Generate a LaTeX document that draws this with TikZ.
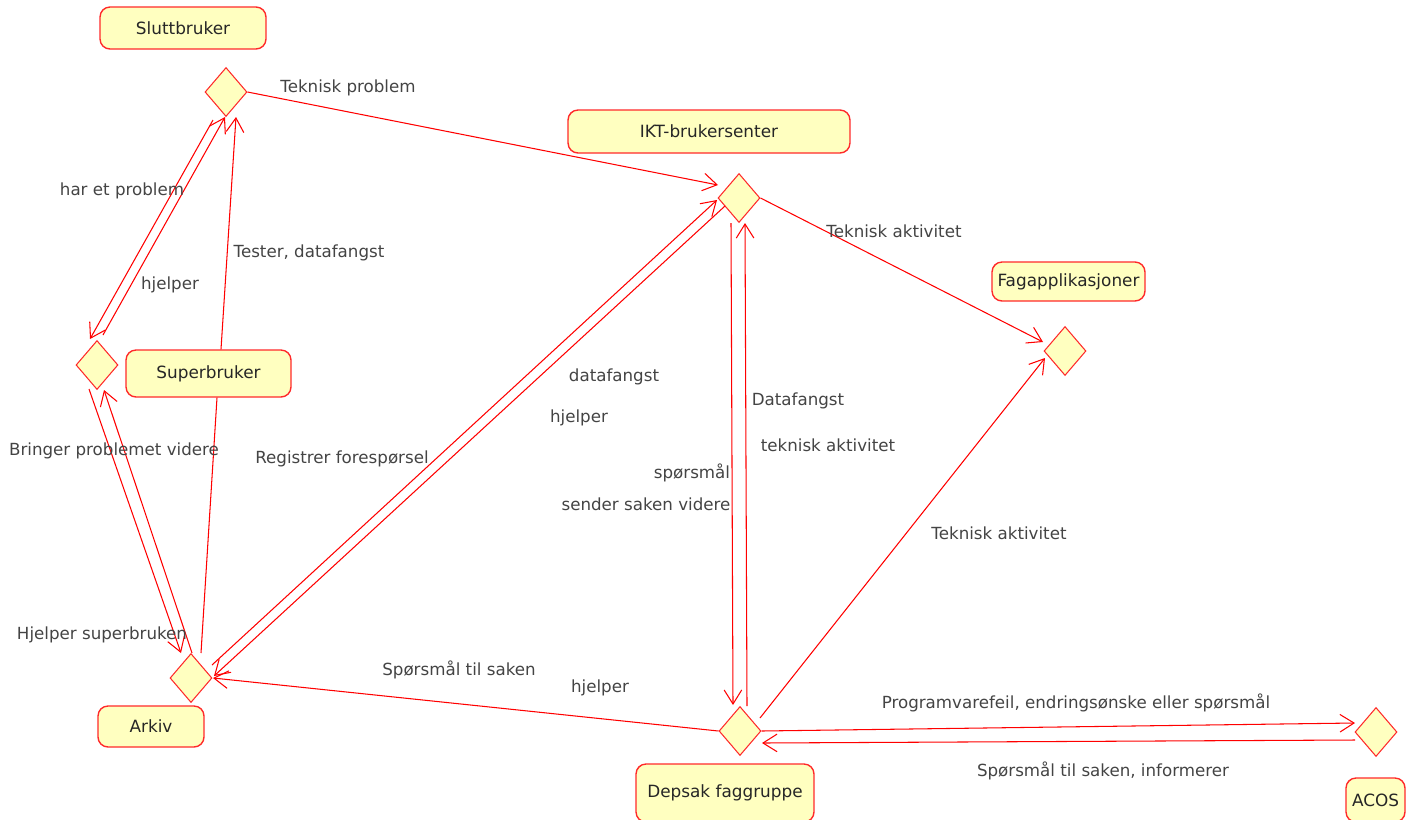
\documentclass[tikz,border=0pt]{standalone}
\usepackage{fontspec}
\setmainfont{DejaVu Sans}
\usetikzlibrary{shapes.geometric,arrows.meta,calc}
\definecolor{boxfill}{HTML}{FFFFC0}
\definecolor{lred}{HTML}{FF2A2A}
\definecolor{labgray}{HTML}{444444}
\begin{document}
\begin{tikzpicture}[x=0.02cm,y=-0.02cm,
  box/.style={draw=lred, line width=0.8pt, fill=boxfill, rounded corners=0.2cm, inner sep=0pt, font=\fontsize{9.6}{11}\selectfont, text=black!85},
  dia/.style={diamond, draw=lred, line width=0.6pt, fill=boxfill, inner sep=0pt, minimum width=0.84cm, minimum height=0.98cm},
  conn/.style={draw=red, line width=0.6pt},
  arr/.style={conn, -{Straight Barb[length=8pt,width=10pt]}},
  lab/.style={font=\fontsize{9.5}{11}\selectfont, text=labgray, inner sep=0pt}]
\useasboundingbox (0,0) rectangle (1406,819);

% boxes
\node[box, minimum width=3.32cm, minimum height=0.84cm] (sb) at (183,28) {Sluttbruker};
\node[box, minimum width=5.64cm, minimum height=0.86cm] (ikt) at (709,131.5) {IKT-brukersenter};
\node[box, minimum width=3.06cm, minimum height=0.78cm] (fag) at (1068.5,281.5) {Fagapplikasjoner};
\node[box, minimum width=3.30cm, minimum height=0.94cm] (sub) at (208.5,373.5) {Superbruker};
\node[box, minimum width=2.12cm, minimum height=0.82cm] (ark) at (151,726.5) {Arkiv};
\node[box, minimum width=3.56cm, minimum height=1.16cm] (dep) at (725,793) {Depsak faggruppe};
\node[box, minimum width=1.18cm, minimum height=0.88cm] (acos) at (1375.5,800) {ACOS};

% diamonds
\node[dia] (dS) at (226,92) {};
\node[dia] (dI) at (739,198) {};
\node[dia] (dSu) at (97,365) {};
\node[dia] (dA) at (191,678) {};
\node[dia] (dD) at (740,731) {};
\node[dia] (dAC) at (1376,732) {};
\node[dia] (dF) at (1065,351) {};

% connectors
\draw[arr] (dS.east) -- ($(dI)+(-21,-13)$);
\draw[arr] ($(dS)+(-13,28)$) -- ($(dSu)+(-7,-26)$);
\draw[arr] ($(dSu)+(6,-30)$) -- ($(dS)+(-1,25)$);
\draw[arr] ($(sub.north)+(12.5,0)$) -- ($(dS)+(10,25)$);
\draw[conn] ($(sub.south)+(8.5,0)$) -- ($(dA)+(10,-25)$);
\draw[arr] ($(dSu)+(-8,24)$) -- ($(dA)+(-10,-25)$);
\draw[arr] ($(dA)+(1,-25)$) -- ($(dSu)+(7,25)$);
\draw[arr] ($(dA)+(21,-13)$) -- ($(dI)+(-22,2)$);
\draw[arr] ($(dI)+(-14,8)$) -- ($(dA)+(23,-2)$);
\draw[arr] ($(dI)+(-8,25)$) -- ($(dD)+(-7,-26)$);
\draw[arr] ($(dD)+(7,-25)$) -- ($(dI)+(6,25)$);
\draw[arr] (dI.east) -- ($(dF)+(-22,-9)$);
\draw[arr] ($(dD)+(20,-13)$) -- ($(dF)+(-20,7)$);
\draw[arr] (dD.west) -- ($(dA)+(22,0)$);
\draw[arr] (dD.east) -- ($(dAC)+(-21,-9)$);
\draw[arr] ($(dAC)+(-21,8)$) -- ($(dD)+(22,12)$);

% labels
\node[lab] (l1) at (348,88) {Teknisk problem};
\node[lab] (l2) at (122,191) {har et problem};
\node[lab] (l3) at (170,285) {hjelper};
\node[lab] (l4) at (309,253) {Tester, datafangst};
\node[lab] (l5) at (114,451) {Bringer problemet videre};
\node[lab] (l6) at (342,459) {Registrer forespørsel};
\node[lab] (l7) at (614,377) {datafangst};
\node[lab] (l8) at (579,418) {hjelper};
\node[lab] (l9) at (692,473) {spørsmål};
\node[lab] (l10) at (646,504) {sender saken videre};
\node[lab] (l11) at (798,401) {Datafangst};
\node[lab] (l12) at (828,445) {teknisk aktivitet};
\node[lab] (l13) at (894,231) {Teknisk aktivitet};
\node[lab] (l14) at (999,533) {Teknisk aktivitet};
\node[lab] (l15) at (102,635) {Hjelper superbruken};
\node[lab] (l16) at (459,670) {Spørsmål til saken};
\node[lab] (l17) at (600,688) {hjelper};
\node[lab] (l18) at (1076,703) {Programvarefeil, endringsønske eller spørsmål};
\node[lab] (l19) at (1103,771) {Spørsmål til saken, informerer};
\end{tikzpicture}
\end{document}
